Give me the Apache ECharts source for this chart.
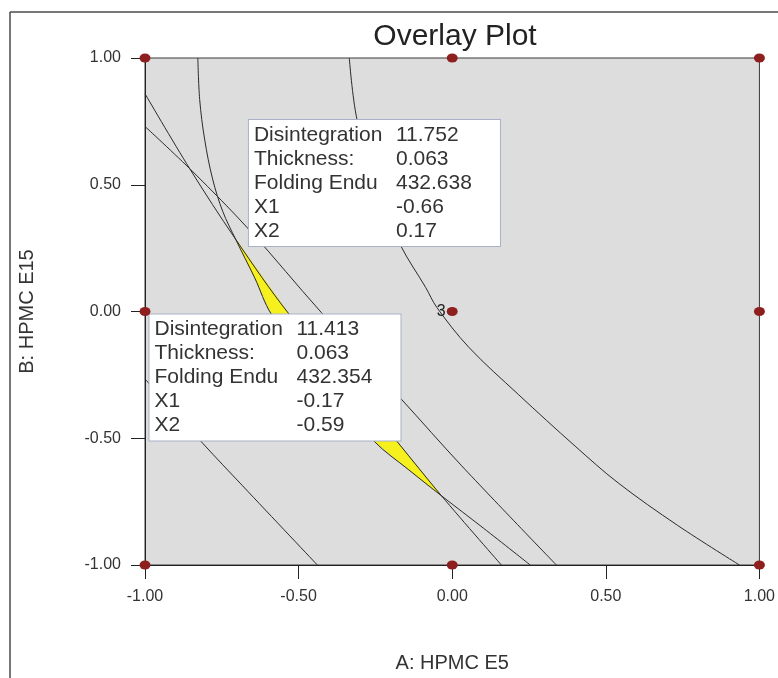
<!DOCTYPE html>
<html>
<head>
<meta charset="utf-8">
<script src="https://cdn.jsdelivr.net/npm/echarts@6/dist/echarts.min.js"></script>
<style>
  html, body { margin: 0; padding: 0; background: #ffffff; }
  #chart { width: 778px; height: 678px; }
</style>
</head>
<body>
<div id="chart"></div>
<script>
// Axis ticks (coded factor levels)
const tickValues = [-1.0, -0.5, 0.0, 0.5, 1.0];

// Design points of the factorial layout; centre point replicated 3 times
const designPoints = [[-1, 1], [0, 1], [1, 1], [-1, 0], [0, 0], [1, 0], [-1, -1], [0, -1], [1, -1]];
const centreReplicates = '3';

// Contour boundaries of the responses in (A, B) coded units
const curveA = [[-0.828, 1.0], [-0.822, 0.836], [-0.806, 0.680], [-0.780, 0.523], [-0.747, 0.395],
  [-0.705, 0.285], [-0.643, 0.133], [-0.588, -0.012], [-0.433, -0.258], [-0.254, -0.512],
  [-0.141, -0.625], [-0.035, -0.727], [0.102, -0.855], [0.254, -1.0]];
const curveB = [[-1.0, 0.859], [-0.854, 0.5625], [-0.705, 0.285], [-0.530, -0.012], [-0.352, -0.258],
  [-0.180, -0.512], [-0.035, -0.727], [0.160, -1.0]];
const curveC = [[-1.0, 0.730], [-0.844, 0.551], [-0.659, 0.320], [-0.426, -0.004], [-0.167, -0.344],
  [0.031, -0.609], [0.339, -1.0]];
const curveD = [[-1.0, -0.266], [-0.812, -0.520], [-0.682, -0.688], [-0.439, -1.0]];
const curveE = [[-0.335, 1.0], [-0.310, 0.758], [-0.238, 0.457], [-0.167, 0.258], [-0.086, 0.094],
  [-0.050, 0.016], [0.054, -0.141], [0.216, -0.328], [0.400, -0.531], [0.540, -0.676],
  [0.734, -0.844], [0.935, -1.0]];

// Where curveA and curveB cross: the feasible (yellow) window lies between them
const windowTopY = 0.285;
const windowBottomY = -0.727;

// Flag annotations
const flagNames = ['Disintegration', 'Thickness:', 'Folding Endu', 'X1', 'X2'];
const flagUpper = ['11.752', '0.063', '432.638', '-0.66', '0.17'];
const flagLower = ['11.413', '0.063', '432.354', '-0.17', '-0.59'];

const inWindow = p => p[1] <= windowTopY + 1e-9 && p[1] >= windowBottomY - 1e-9;
const windowPolygon = curveA.filter(inWindow).concat(curveB.filter(inWindow).reverse());

const lineColor = '#2a2a2a';
const textColor = '#333333';
const fontFamily = 'Liberation Sans, Arial, sans-serif';

function contour(data) {
  return {
    type: 'line', data: data, symbol: 'none', smooth: 0.35,
    lineStyle: { color: lineColor, width: 1 }, z: 3, silent: true, clip: true
  };
}

function flagText(values) {
  return flagNames.map((n, i) => '{n|' + n + '}{v|' + values[i] + '}').join('\n');
}

function flagLabel(values, align, dx, dy) {
  const cell = { fontSize: 21, lineHeight: 24, color: textColor, fontFamily: fontFamily, align: 'left' };
  return {
    show: true, position: [0, 0], align: align, verticalAlign: 'bottom', offset: [dx, dy],
    formatter: () => flagText(values),
    backgroundColor: '#ffffff', borderColor: '#a9b1c8', borderWidth: 1,
    padding: [3, 2, 3, 5], lineHeight: 24, fontSize: 21,
    fontFamily: fontFamily, color: textColor,
    rich: {
      n: Object.assign({ width: 142 }, cell),
      v: Object.assign({ width: 102 }, cell)
    }
  };
}

const chart = echarts.init(document.getElementById('chart'), null, { renderer: 'canvas' });

chart.setOption({
  animation: false,
  backgroundColor: '#ffffff',
  title: {
    text: 'Overlay Plot', left: 450, top: 17, textAlign: 'center',
    textStyle: { fontSize: 30, fontWeight: 'normal', color: '#222', fontFamily: fontFamily }
  },
  graphic: [
    { type: 'line', shape: { x1: 10, y1: 12, x2: 778, y2: 12 }, style: { stroke: '#4a4a4a', lineWidth: 1.5 } },
    { type: 'line', shape: { x1: 10, y1: 12, x2: 10, y2: 678 }, style: { stroke: '#4a4a4a', lineWidth: 1.5 } }
  ],
  grid: {
    left: 145, right: 16, top: 58, bottom: 108,
    show: true, backgroundColor: '#dddddd', borderColor: '#3a3a3a', borderWidth: 1
  },
  xAxis: {
    type: 'value', min: tickValues[0], max: tickValues[tickValues.length - 1], interval: 0.5,
    name: 'A: HPMC E5', nameLocation: 'middle', nameGap: 88,
    nameTextStyle: { fontSize: 20, color: textColor, fontFamily: fontFamily },
    axisLine: { show: true, onZero: false, lineStyle: { color: '#222', width: 1 } },
    axisTick: { show: true, length: 14, inside: false, lineStyle: { color: '#222' } },
    axisLabel: { formatter: v => v.toFixed(2), fontSize: 16, color: textColor, margin: 24, fontFamily: fontFamily },
    splitLine: { show: false }
  },
  yAxis: {
    type: 'value', min: tickValues[0], max: tickValues[tickValues.length - 1], interval: 0.5,
    name: 'B: HPMC E15', nameLocation: 'middle', nameGap: 108, nameRotate: 90,
    nameTextStyle: { fontSize: 20, color: textColor, fontFamily: fontFamily },
    axisLine: { show: true, onZero: false, lineStyle: { color: '#222', width: 1 } },
    axisTick: { show: true, length: 14, inside: false, lineStyle: { color: '#222' } },
    axisLabel: { formatter: v => v.toFixed(2), fontSize: 16, color: textColor, margin: 24, fontFamily: fontFamily },
    splitLine: { show: false }
  },
  series: [
    {
      type: 'custom', z: 2, silent: true, data: [0],
      renderItem: (params, api) => ({
        type: 'polygon',
        shape: { points: windowPolygon.map(p => api.coord(p)) },
        style: { fill: '#f5f01e', stroke: '#e8e21a', lineWidth: 0.5 }
      })
    },
    contour(curveA),
    contour(curveB),
    contour(curveC),
    contour(curveD),
    contour(curveE),
    {
      type: 'scatter', z: 6, silent: true, clip: false,
      symbol: 'rect', symbolSize: 1, itemStyle: { color: 'rgba(0,0,0,0)', opacity: 1 },
      data: [
        { value: [Number(flagUpper[3]), Number(flagUpper[4])], label: flagLabel(flagUpper, 'left', 0, -22) },
        { value: [Number(flagLower[3]), Number(flagLower[4])], label: flagLabel(flagLower, 'right', 1, -20) }
      ]
    },
    {
      type: 'scatter', z: 8, silent: true, clip: false,
      symbol: 'circle', symbolSize: [11, 9],
      itemStyle: { color: '#8e1f1f', opacity: 1 },
      data: designPoints.map(p => {
        const item = { value: p };
        if (p[0] === 0 && p[1] === 0) {
          item.label = { show: true, position: 'left', distance: 1, formatter: centreReplicates,
            fontSize: 16, color: '#222', fontFamily: fontFamily };
        }
        return item;
      })
    }
  ]
});
</script>
</body>
</html>
